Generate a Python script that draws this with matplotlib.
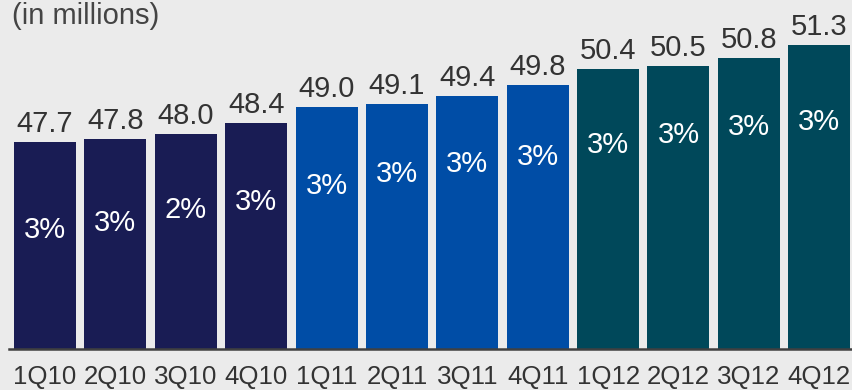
import matplotlib
matplotlib.use("Agg")
import matplotlib.pyplot as plt

plt.rcParams['font.family'] = ['Liberation Sans', 'DejaVu Sans']

# data
quarters = ["1Q10", "2Q10", "3Q10", "4Q10", "1Q11", "2Q11", "3Q11", "4Q11",
            "1Q12", "2Q12", "3Q12", "4Q12"]
subscribers = [47.7, 47.8, 48.0, 48.4, 49.0, 49.1, 49.4, 49.8, 50.4, 50.5, 50.8, 51.3]
growth = ["3%", "3%", "2%", "3%", "3%", "3%", "3%", "3%", "3%", "3%", "3%", "3%"]
year_of = ["2010"] * 4 + ["2011"] * 4 + ["2012"] * 4

year_colors = {"2010": "#191c54", "2011": "#004da6", "2012": "#00485a"}
# how far below the bar top the growth label sits (pixels)
pct_drop = [88, 84, 76, 79, 79, 70, 68, 72, 76, 69, 69, 77]

bg = "#ebebeb"
fig = plt.figure(figsize=(8.53, 3.9), dpi=100, facecolor=bg)
ax = fig.add_axes([9 / 853, 41 / 390, 844 / 853, 348.5 / 390])
ax.set_facecolor(bg)

x = list(range(len(quarters)))
cols = [year_colors[y] for y in year_of]
bars = ax.bar(x, subscribers, width=0.88, color=cols, bottom=0)

ax.set_xlim(-0.512, 11.48)
ax.set_ylim(40, 52.94)

px = 0.72  # points per pixel at dpi 100
for xi, v, g, d in zip(x, subscribers, growth, pct_drop):
    ax.annotate(f"{v:.1f}", (xi, v), xytext=(0, 10 * px), textcoords="offset points",
                ha="center", va="baseline", fontsize=21, color="#333333")
    ax.annotate(g, (xi, v), xytext=(0, -d * px), textcoords="offset points",
                ha="center", va="center", fontsize=21, color="white")

ax.set_xticks(x)
ax.set_xticklabels(quarters, fontsize=18.6, color="#333333")
ax.tick_params(axis="x", length=0, pad=11.5)
ax.set_yticks([])
for s in ["top", "left", "right"]:
    ax.spines[s].set_visible(False)
ax.spines["bottom"].set_color("#404040")
ax.spines["bottom"].set_linewidth(1.8)

fig.text(12 / 853, 1 - 16 / 390, "(in millions)", fontsize=21, color="#444444",
         ha="left", va="center")

fig.savefig("out.png", dpi=100, facecolor=bg)
